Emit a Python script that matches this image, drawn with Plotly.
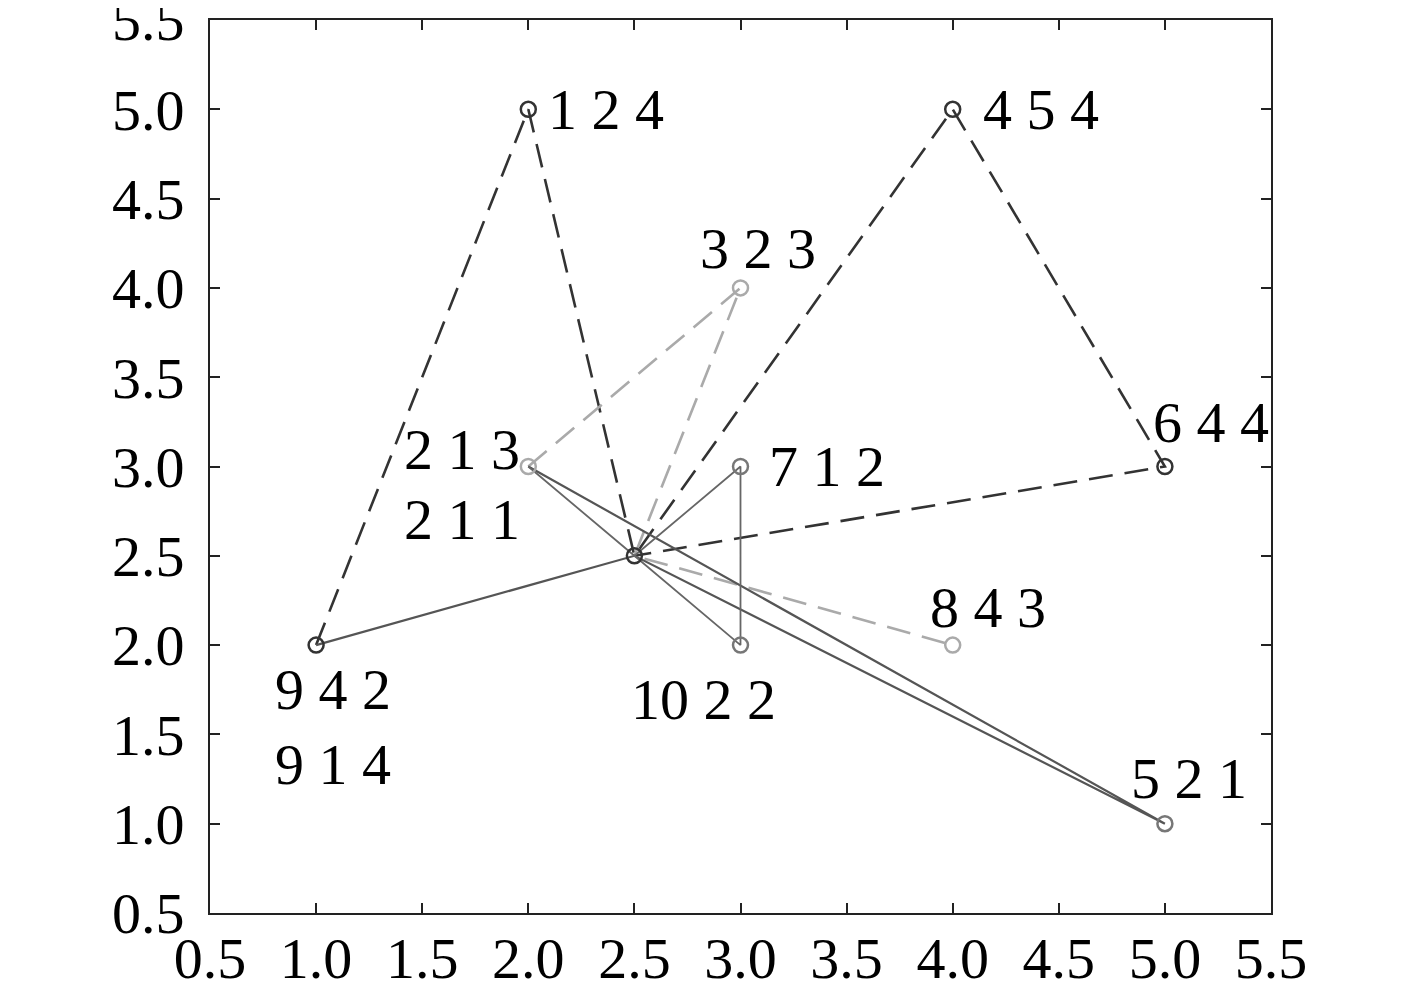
import plotly.graph_objects as go

# dark dashed path
dark_x = [1, 2, 2.5, 4, 5, 2.5]
dark_y = [2, 5, 2.5, 5, 3, 2.5]
# light dashed path
light_x = [2, 3, 2.5, 4]
light_y = [3, 4, 2.5, 2]
# solid paths
solid_x = [1, 2.5, 5, 2]
solid_y = [2, 2.5, 1, 3]
solid2_x = [2, 2.5, 3, 3, 2.5]
solid2_y = [3, 2.5, 3, 2, 2.5]

# points
pt_x = [2, 4, 3, 2, 3, 5, 1, 3, 4, 5, 2.5]
pt_y = [5, 5, 4, 3, 3, 3, 2, 2, 2, 1, 2.5]
pt_col = ["#333", "#333", "#aaa", "#aaa", "#777", "#333", "#333", "#777", "#aaa", "#777", "#333"]

# labels: text, point index
lab_text = ["1 2 4", "4 5 4", "3 2 3", "2 1 3", "2 1 1", "7 1 2", "6 4 4",
            "9 4 2", "9 1 4", "10 2 2", "8 4 3", "5 2 1"]
lab_pt = [0, 1, 2, 3, 3, 4, 5, 6, 6, 7, 8, 9]
# placement (anchor, xshift, yshift)
lab_pos = [("left", 18, 0), ("left", 28, 0), ("center", 17, 39), ("right", -6, 17),
           ("right", -6, -53), ("left", 26, 0), ("center", 46, 44),
           ("center", 17, -44), ("center", 17, -119), ("center", -37, -54),
           ("center", 35, 38), ("center", 24, 45)]

fig = go.Figure()
dash = "24px,12px"
fig.add_trace(go.Scatter(x=dark_x, y=dark_y, mode="lines",
                         line=dict(color="#333", width=2.6, dash=dash)))
fig.add_trace(go.Scatter(x=light_x, y=light_y, mode="lines",
                         line=dict(color="#aaa", width=2.6, dash=dash)))
fig.add_trace(go.Scatter(x=solid_x, y=solid_y, mode="lines",
                         line=dict(color="#555", width=2.2)))
fig.add_trace(go.Scatter(x=solid2_x, y=solid2_y, mode="lines",
                         line=dict(color="#666", width=1.8)))
fig.add_trace(go.Scatter(x=pt_x, y=pt_y, mode="markers",
                         marker=dict(symbol="circle-open", size=15, color=pt_col,
                                     line=dict(width=2.5))))

for t, i, (anc, dx, dy) in zip(lab_text, lab_pt, lab_pos):
    fig.add_annotation(x=pt_x[i], y=pt_y[i], text=t, showarrow=False,
                       xanchor=anc, yanchor="middle", xshift=dx, yshift=dy,
                       font=dict(family="Liberation Serif", size=58, color="black"))

ticks = [0.5, 1.0, 1.5, 2.0, 2.5, 3.0, 3.5, 4.0, 4.5, 5.0, 5.5]
tick_txt = ["0.5", "1.0", "1.5", "2.0", "2.5", "3.0", "3.5", "4.0", "4.5", "5.0", "5.5"]
ax = dict(range=[0.5, 5.5], tickvals=ticks, ticktext=tick_txt, showgrid=False,
          zeroline=False, showline=True, mirror="ticks", linecolor="#222", linewidth=2,
          ticks="inside", ticklen=10, tickwidth=2, tickcolor="#222", automargin=False,
          ticklabeloverflow="allow",
          tickfont=dict(family="Liberation Serif", size=58, color="black"))
fig.update_xaxes(**ax, ticklabelstandoff=-7)
fig.update_yaxes(**ax, ticklabelstandoff=12)
# page body adds an 8px offset, so the figure is sized to compensate
fig.update_layout(width=1409, height=974, showlegend=False,
                  plot_bgcolor="white", paper_bgcolor="white",
                  margin=dict(l=202, r=146, t=12, b=69))
fig.write_html("out.html")
